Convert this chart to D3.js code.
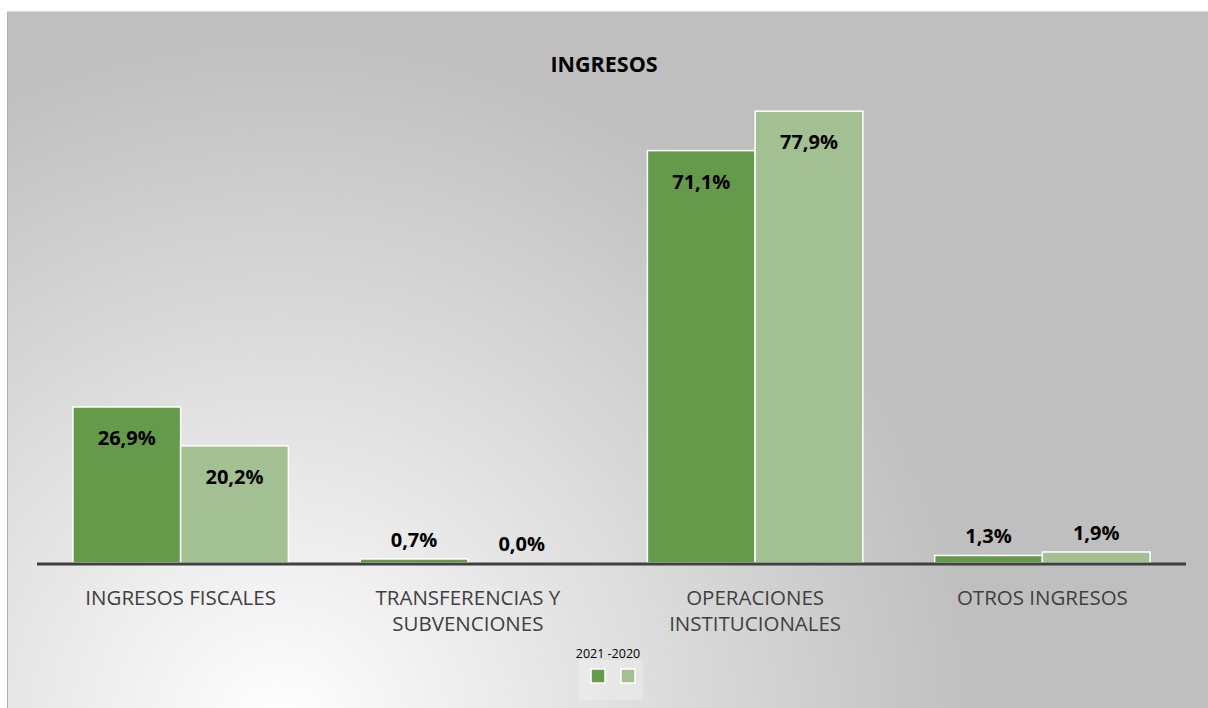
<!DOCTYPE html>
<html lang="es">
<head>
    <meta charset="UTF-8">
    <title>INGRESOS</title>
    <script src="https://cdn.jsdelivr.net/npm/d3@7"></script>
    <style>
        body { margin: 0; background: #fff; }
        text { font-family: "Open Sans", sans-serif; }
    </style>
</head>
<body>
<script>
    // categorias y series
    var categories = ["INGRESOS FISCALES", "TRANSFERENCIAS Y\nSUBVENCIONES", "OPERACIONES\nINSTITUCIONALES", "OTROS INGRESOS"];
    var series = ["2021", "2020"];
    var values2021 = [26.9, 0.7, 71.1, 1.3];
    var values2020 = [20.2, 0.0, 77.9, 1.9];
    var colors = ["#649a49", "#a3c093"];

    var width = 1208, height = 708;
    var svg = d3.select("body").append("svg")
        .attr("width", width)
        .attr("height", height);

    // fondo con degradado radial
    var defs = svg.append("defs");
    var grad = defs.append("radialGradient")
        .attr("id", "bg")
        .attr("gradientUnits", "userSpaceOnUse")
        .attr("cx", 280).attr("cy", 730).attr("r", 700);
    grad.append("stop").attr("offset", "0%").attr("stop-color", "#ffffff");
    grad.append("stop").attr("offset", "100%").attr("stop-color", "#bfbfbf");

    svg.append("rect")
        .attr("x", 7).attr("y", 11)
        .attr("width", width - 7).attr("height", height - 11)
        .attr("fill", "url(#bg)");
    svg.append("line")
        .attr("x1", 7.5).attr("x2", 7.5).attr("y1", 11).attr("y2", height)
        .attr("stroke", "#b0b0b0");
    svg.append("line")
        .attr("x1", 7).attr("x2", width).attr("y1", 11.5).attr("y2", 11.5)
        .attr("stroke", "#d9d9d9");

    // escalas
    var x0 = d3.scaleBand()
        .domain(d3.range(categories.length))
        .range([37, 1186])
        .paddingInner(0.25)
        .paddingOuter(0.125);
    var x1 = d3.scaleBand()
        .domain(series)
        .range([0, x0.bandwidth()]);
    var y = d3.scaleLinear()
        .domain([0, 100])
        .range([563, -17]);

    var data = categories.map(function (c, i) {
        return {cat: i, vals: [values2021[i], values2020[i]]};
    });

    // barras
    var groups = svg.append("g").selectAll("g")
        .data(data)
        .enter().append("g")
        .attr("transform", function (d) { return "translate(" + x0(d.cat) + ",0)"; });

    groups.selectAll("rect")
        .data(function (d) { return d.vals.map(function (v, j) { return {s: series[j], v: v, j: j}; }); })
        .enter().append("rect")
        .attr("x", function (d) { return x1(d.s); })
        .attr("y", function (d) { return y(d.v); })
        .attr("width", x1.bandwidth())
        .attr("height", function (d) { return y(0) - y(d.v); })
        .attr("fill", function (d) { return colors[d.j]; })
        .attr("stroke", "#ffffff")
        .attr("stroke-width", 1.5);

    // etiquetas de valores
    groups.selectAll("text")
        .data(function (d) { return d.vals.map(function (v, j) { return {s: series[j], v: v, j: j}; }); })
        .enter().append("text")
        .attr("x", function (d) { return x1(d.s) + x1.bandwidth() / 2; })
        .attr("y", function (d) {
            return d.v > 10 ? y(d.v) + 38 : y(d.v) - 12;
        })
        .attr("text-anchor", "middle")
        .attr("font-size", 20)
        .attr("font-weight", "bold")
        .attr("fill", "#000")
        .text(function (d) { return d.v.toFixed(1).replace(".", ",") + "%"; });

    // eje
    svg.append("line")
        .attr("x1", 37).attr("x2", 1186)
        .attr("y1", y(0) + 1).attr("y2", y(0) + 1)
        .attr("stroke", "#404040")
        .attr("stroke-width", 3);

    // etiquetas de categorias
    var catLabels = svg.append("g").selectAll("text")
        .data(categories)
        .enter().append("text")
        .attr("x", function (d, i) { return x0(i) + x0.bandwidth() / 2; })
        .attr("y", 605)
        .attr("text-anchor", "middle")
        .attr("font-size", 20.5)
        .attr("fill", "#404040");
    catLabels.each(function (d) {
        var t = d3.select(this);
        d.split("\n").forEach(function (line, k) {
            t.append("tspan")
                .attr("x", t.attr("x"))
                .attr("dy", k === 0 ? 0 : 26)
                .text(line);
        });
    });

    // titulo
    svg.append("text")
        .attr("x", 604).attr("y", 72)
        .attr("text-anchor", "middle")
        .attr("font-size", 21.5)
        .attr("font-weight", "bold")
        .attr("fill", "#000")
        .text("INGRESOS");

    // leyenda
    svg.append("text")
        .attr("x", 608).attr("y", 658)
        .attr("text-anchor", "middle")
        .attr("font-size", 12.5)
        .attr("fill", "#000")
        .text(series[0] + " -" + series[1]);
    svg.append("rect")
        .attr("x", 579).attr("y", 660)
        .attr("width", 64).attr("height", 40)
        .attr("fill", "#ffffff").attr("fill-opacity", 0.25);
    svg.selectAll(".leg")
        .data(series)
        .enter().append("rect")
        .attr("class", "leg")
        .attr("x", function (d, i) { return 591 + i * 30; })
        .attr("y", 669)
        .attr("width", 14).attr("height", 14)
        .attr("fill", function (d, i) { return colors[i]; })
        .attr("stroke", "#ffffff")
        .attr("stroke-width", 1.5);
</script>
</body>
</html>
